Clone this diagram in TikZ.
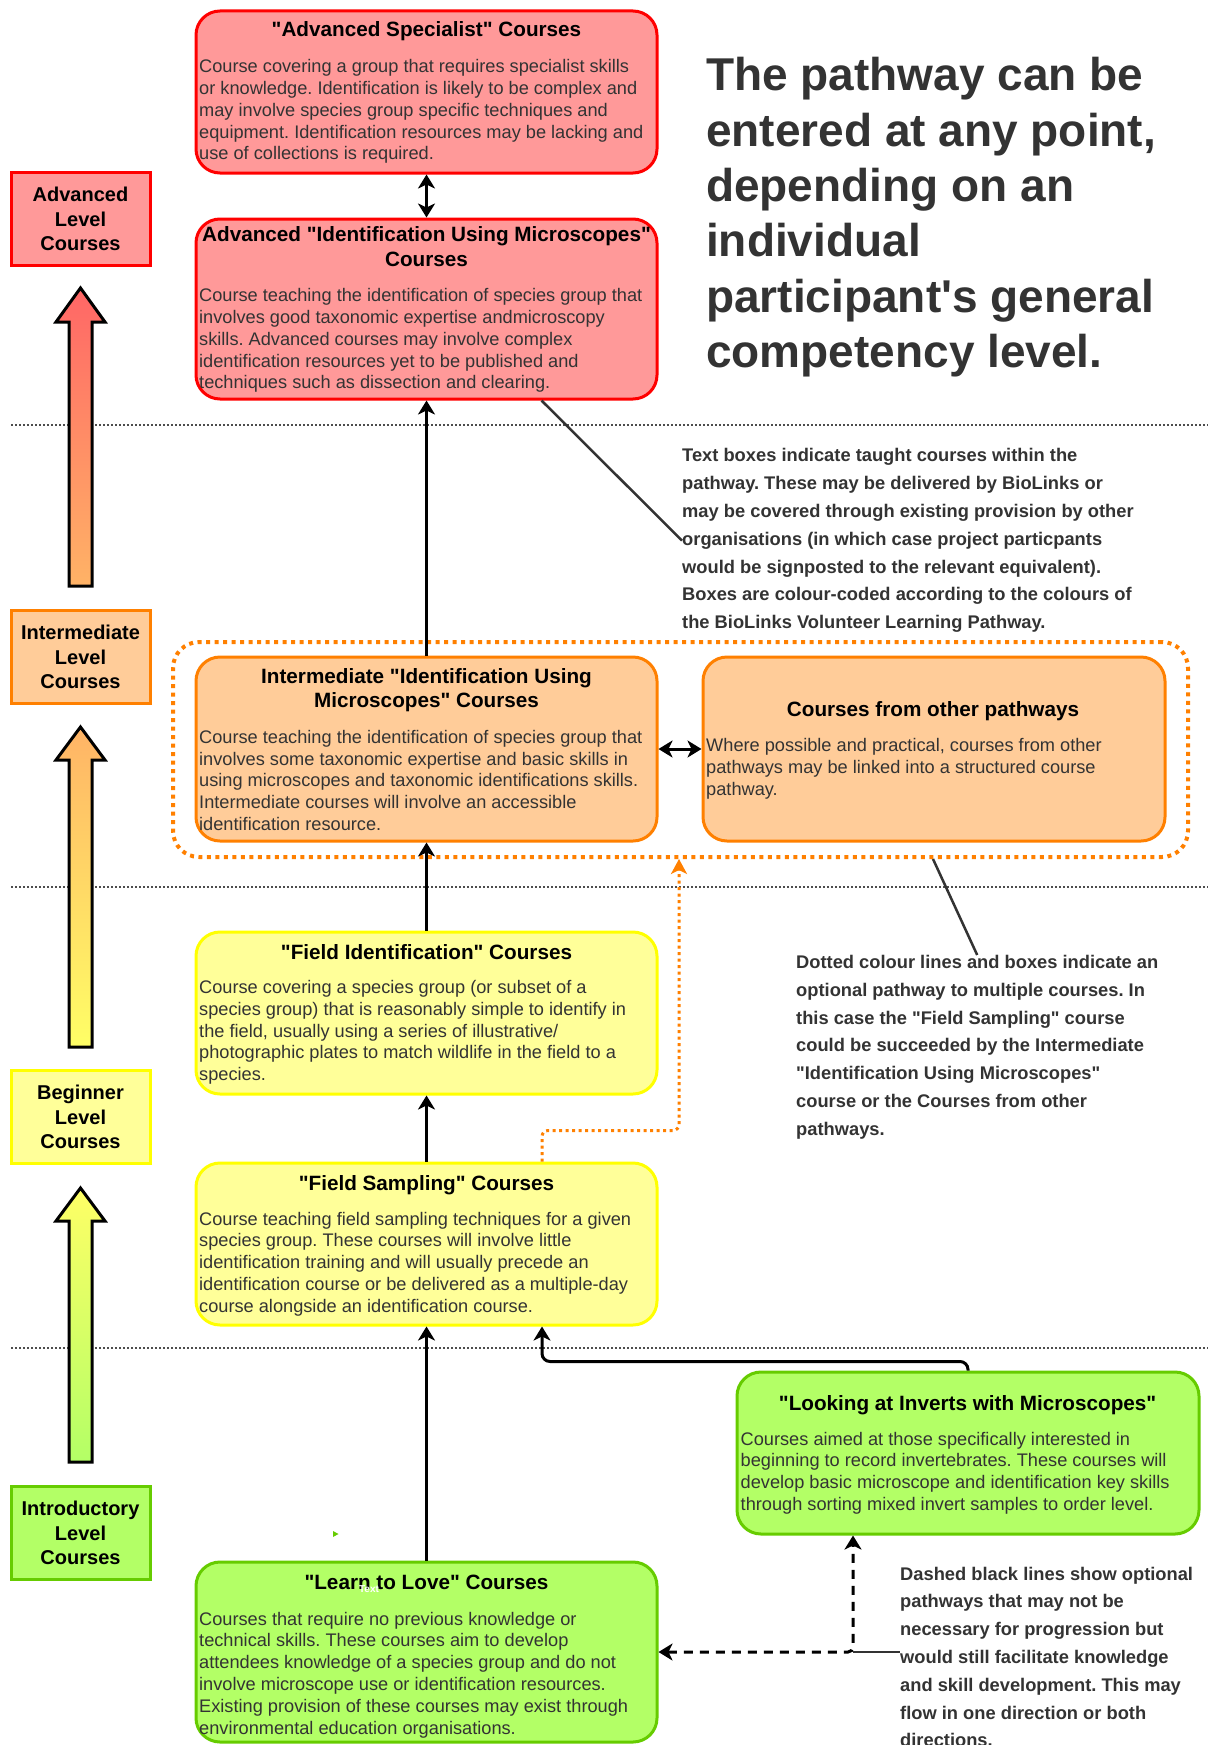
\documentclass[tikz,border=0pt]{standalone}
\usepackage{fontspec}
\setmainfont{Liberation Sans}[Ligatures=TeXOff]
\usetikzlibrary{arrows.meta,calc}
\frenchspacing
\definecolor{redfill}{HTML}{FF9999}
\definecolor{redline}{HTML}{FF0000}
\definecolor{orfill}{HTML}{FFCC99}
\definecolor{orline}{HTML}{FF8000}
\definecolor{yefill}{HTML}{FFFF99}
\definecolor{yeline}{HTML}{FFFF00}
\definecolor{grfill}{HTML}{B3FF66}
\definecolor{grline}{HTML}{66CC00}
\definecolor{txtgray}{HTML}{333333}
\definecolor{sepgray}{HTML}{4D4D4D}
\newcommand\bodyf{\fontsize{18.2}{21.8}\selectfont}
\newcommand\ttlf{\bfseries\fontsize{20.7}{24.3}\selectfont}
\newcommand\lvlf{\bfseries\fontsize{20}{24.2}\selectfont}
\newcommand\notef{\bfseries\fontsize{18.3}{27.8}\selectfont}
\newcommand\bigf{\bfseries\fontsize{46}{55.4}\selectfont}
\begin{document}
\begin{tikzpicture}[x=1pt,y=-1pt,
  cbox/.style={draw, rounded corners=24pt, line width=3pt, minimum width=461pt, inner sep=0pt},
  ttl/.style={font=\ttlf, text=black, align=center, anchor=north, inner sep=0pt},
  bdy/.style={font=\bodyf, text=txtgray, align=left, anchor=north west, inner sep=0pt},
  note/.style={font=\notef, text=txtgray, align=left, anchor=north west, inner sep=0pt},
  lvl/.style={draw, line width=3pt, minimum width=139pt, minimum height=93pt, align=center, font=\lvlf, text=black, inner sep=0pt},
  bigarrow/.style={draw=black, line width=3pt, line join=miter},
  sep/.style={draw=sepgray, line width=2pt, dash pattern=on 2pt off 2pt},
  conn/.style={line width=3pt, -{Stealth[length=14pt,width=17pt,inset=4pt]}},
  dbl/.style={line width=3pt, {Stealth[length=14pt,width=17pt,inset=4pt]}-{Stealth[length=14pt,width=17pt,inset=4pt]}},
  dashc/.style={line width=3pt, dash pattern=on 9pt off 7pt, {Stealth[length=14pt,width=17pt,inset=4pt]}-{Stealth[length=14pt,width=17pt,inset=4pt]}},
  orarrow/.style={draw=orline, line width=3pt, dash pattern=on 3pt off 3.5pt, -{Stealth[length=15pt,width=16pt,inset=4pt,fill=orline]}},
  annot/.style={draw=txtgray, line width=2.5pt}
]
\useasboundingbox (0,0) rectangle (1208,1745);
\fill[white] (0,0) rectangle (1208,1745);

% separators
\draw[sep] (11,425) -- (1208,425);
\draw[sep] (11,887) -- (1208,887);
\draw[sep] (11,1348) -- (1208,1348);

% level arrows
\draw[bigarrow, top color={rgb,255:red,255;green,102;blue,102}, bottom color={rgb,255:red,255;green,179;blue,102}]
  (80.5,288) -- (105,322) -- (92,322) -- (92,586) -- (69,586) -- (69,322) -- (56,322) -- cycle;
\draw[bigarrow, top color={rgb,255:red,255;green,179;blue,102}, bottom color={rgb,255:red,255;green,255;blue,102}]
  (80.5,727) -- (105,760) -- (92,760) -- (92,1047) -- (69,1047) -- (69,760) -- (56,760) -- cycle;
\draw[bigarrow, top color={rgb,255:red,255;green,255;blue,102}, bottom color={rgb,255:red,179;green,255;blue,102}]
  (80.5,1188) -- (105,1221) -- (92,1221) -- (92,1462) -- (69,1462) -- (69,1221) -- (56,1221) -- cycle;

% level labels
\node[lvl, fill=redfill, draw=redline] (lvadv) at (80.5,219) {Advanced\\Level\\Courses};
\node[lvl, fill=orfill, draw=orline] (lvint) at (80.5,657) {Intermediate\\Level\\Courses};
\node[lvl, fill=yefill, draw=yeline] (lvbeg) at (80.5,1117) {Beginner\\Level\\Courses};
\node[lvl, fill=grfill, draw=grline] (lvintro) at (80.5,1533) {Introductory\\Level\\Courses};

% optional group container
\node[draw=orline, line width=4pt, dash pattern=on 4pt off 4.5pt, rounded corners=26pt,
      minimum width=1015pt, minimum height=215pt, inner sep=0pt] (grp) at (680.5,749.5) {};

% course boxes
\node[cbox, fill=redfill, draw=redline, minimum height=162pt] (spec) at (426.5,92) {};
\node[cbox, fill=redfill, draw=redline, minimum height=180pt] (advid) at (426.5,309) {};
\node[cbox, fill=orfill, draw=orline, minimum height=184pt] (intid) at (426.5,749) {};
\node[cbox, fill=orfill, draw=orline, minimum width=462pt, minimum height=184pt] (other) at (934,749) {};
\node[cbox, fill=yefill, draw=yeline, minimum height=162pt] (fieldid) at (426.5,1013) {};
\node[cbox, fill=yefill, draw=yeline, minimum height=162pt] (fieldsamp) at (426.5,1244) {};
\node[cbox, fill=grfill, draw=grline, minimum width=462pt, minimum height=162pt] (inverts) at (968,1453) {};
\node[cbox, fill=grfill, draw=grline, minimum height=180pt] (learn) at (426.5,1652) {};

% texts in boxes
\node[ttl] (specT) at (426.5,21.6) {"Advanced Specialist" Courses};
\node[bdy] (specB) at (199,59.4) {Course covering a group that requires specialist skills\\or knowledge. Identification is likely to be complex and\\may involve species group specific techniques and\\equipment. Identification resources may be lacking and\\use of collections is required.};

\node[ttl] (advidT) at (426.5,226.6) {Advanced "Identification Using Microscopes"\\Courses};
\node[bdy] (advidB) at (199,288.4) {Course teaching the identification of species group that\\involves good taxonomic expertise andmicroscopy\\skills. Advanced courses may involve complex\\identification resources yet to be published and\\techniques such as dissection and clearing.};

\node[ttl] (intidT) at (426.5,668.2) {Intermediate "Identification Using\\Microscopes" Courses};
\node[bdy] (intidB) at (199,730) {Course teaching the identification of species group that\\involves some taxonomic expertise and basic skills in\\using microscopes and taxonomic identifications skills.\\Intermediate courses will involve an accessible\\identification resource.};

\node[ttl] (otherT) at (933,700.9) {Courses from other pathways};
\node[bdy] (otherB) at (706,738.4) {Where possible and practical, courses from other\\pathways may be linked into a structured course\\pathway.};

\node[ttl] (fieldidT) at (426.5,944.2) {"Field Identification" Courses};
\node[bdy] (fieldidB) at (199,980) {Course covering a species group (or subset of a\\species group) that is reasonably simple to identify in\\the field, usually using a series of illustrative/\\photographic plates to match wildlife in the field to a\\species.};

\node[ttl] (fieldsampT) at (426.5,1174.9) {"Field Sampling" Courses};
\node[bdy] (fieldsampB) at (199,1211.7) {Course teaching field sampling techniques for a given\\species group. These courses will involve little\\identification training and will usually precede an\\identification course or be delivered as a multiple-day\\course alongside an identification course.};

\node[ttl] (invertsT) at (967.6,1394.9) {"Looking at Inverts with Microscopes"};
\node[bdy] (invertsB) at (740.5,1431.7) {Courses aimed at those specifically interested in\\beginning to record invertebrates. These courses will\\develop basic microscope and identification key skills\\through sorting mixed invert samples to order level.};

\node[ttl] (learnT) at (426.5,1574.9) {"Learn to Love" Courses};
\node[bdy] (learnB) at (199,1611.7) {Courses that require no previous knowledge or\\technical skills. These courses aim to develop\\attendees knowledge of a species group and do not\\involve microscope use or identification resources.\\Existing provision of these courses may exist through\\environmental education organisations.};
\node[text=white, font=\bfseries\fontsize{10}{12}\selectfont, inner sep=0pt] (stray) at (369,1589) {Text};
\fill[grline] (333,1531) -- (338.5,1534) -- (333,1537) -- cycle;

% headline
\node[anchor=north west, inner sep=0pt, font=\bigf, text=txtgray, align=left] (head) at (706,57.2)
  {The pathway can be\\entered at any point,\\depending on an\\individual\\participant's general\\competency level.};

% notes
\node[note] (note1) at (682,448.4) {Text boxes indicate taught courses within the\\pathway. These may be delivered by BioLinks or\\may be covered through existing provision by other\\organisations (in which case project particpants\\would be signposted to the relevant equivalent).\\Boxes are colour-coded according to the colours of\\the BioLinks Volunteer Learning Pathway.};
\node[note] (note2) at (796,955) {Dotted colour lines and boxes indicate an\\optional pathway to multiple courses. In\\this case the "Field Sampling" course\\could be succeeded by the Intermediate\\"Identification Using Microscopes"\\course or the Courses from other\\pathways.};
\node[note] (note3) at (900,1566.7) {Dashed black lines show optional\\pathways that may not be\\necessary for progression but\\would still facilitate knowledge\\and skill development. This may\\flow in one direction or both\\directions.};

% connectors
\draw[dbl] (spec.south) -- (advid.north);
\draw[conn] (intid.north) -- (advid.south);
\draw[conn] (fieldid.north) -- (intid.south);
\draw[conn] (fieldsamp.north) -- (fieldid.south);
\draw[conn] (learn.north) -- (fieldsamp.south);
\draw[dbl] (intid.east) -- (other.west);
\draw[conn, rounded corners=8pt] (inverts.north) -- ++(0,-9) -| ([xshift=115.5pt]fieldsamp.south);
\draw[orarrow, rounded corners=6pt] ([xshift=115.5pt]fieldsamp.north) -- ++(0,-31) -| ([xshift=-1.5pt]grp.south);
\coordinate (dc) at (853,1652);
\draw[dashc, rounded corners=5pt] (learn.east) -| ([xshift=-115pt]inverts.south);

% annotation leaders
\draw[annot] ([xshift=115pt]advid.south) -- (note1.west);
\draw[annot] ([xshift=252.5pt]grp.south) -- (note2.north);
\draw[annot] (dc) -- (note3.west |- dc);
\end{tikzpicture}
\end{document}
